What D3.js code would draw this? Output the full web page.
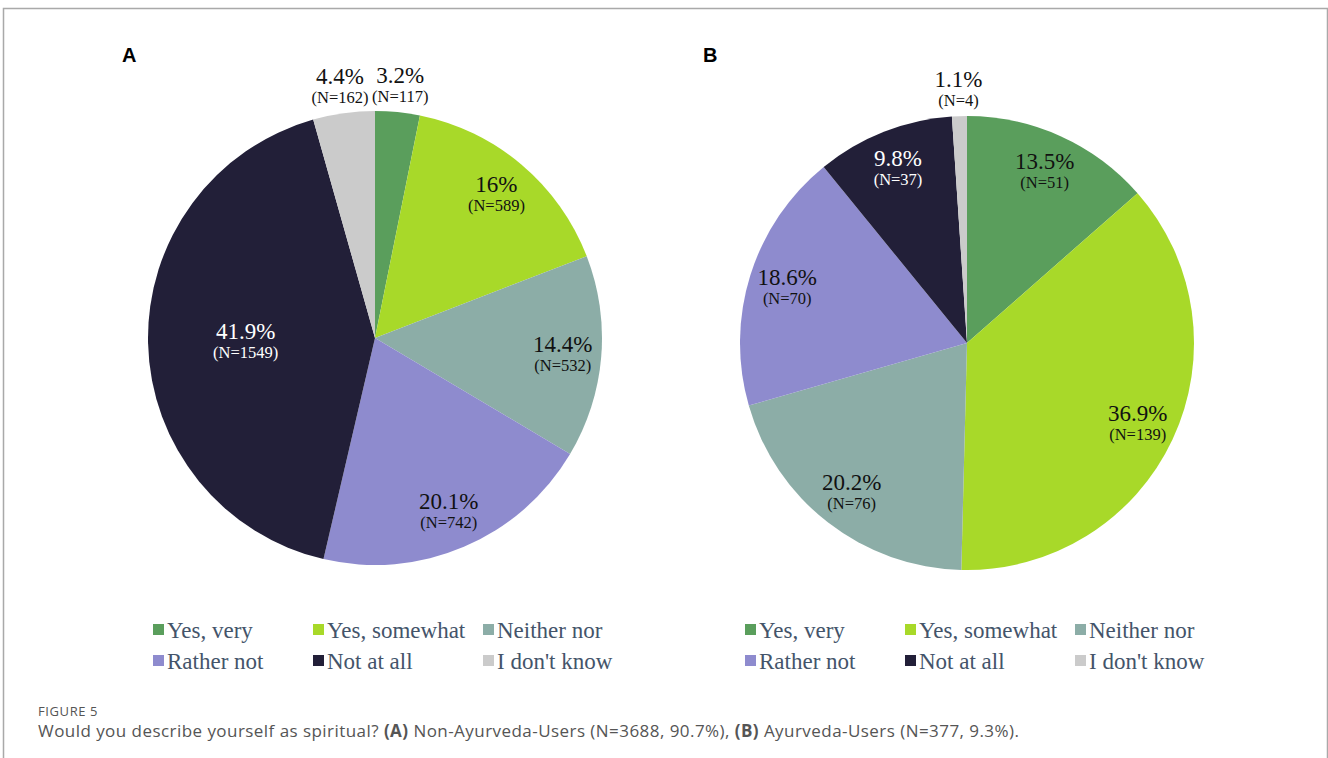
<!DOCTYPE html>
<html>
<head>
<meta charset="utf-8">
<script src="https://cdn.jsdelivr.net/npm/d3@7"></script>
<style>
  body { margin: 0; background: #fff; }
  svg { display: block; }
</style>
</head>
<body>
<div id="chart"></div>
<script>
// data
const categories = ["Yes, very", "Yes, somewhat", "Neither nor", "Rather not", "Not at all", "I don't know"];
const colors = ["#5a9e5c", "#a8d929", "#8cada7", "#8e8bce", "#221f38", "#cbcbcb"];

const countsA = [117, 589, 532, 742, 1549, 162];
const pctA = ["3.2%", "16%", "14.4%", "20.1%", "41.9%", "4.4%"];

const countsB = [51, 139, 76, 70, 37, 4];
const pctB = ["13.5%", "36.9%", "20.2%", "18.6%", "9.8%", "1.1%"];

const width = 1328;
const height = 758;
const radius = 227;

const svg = d3.select("#chart").append("svg")
  .attr("width", width)
  .attr("height", height);

// frame round the figure
svg.append("path")
  .attr("d", `M3.5,${height} V8.5 H1327.5 V${height}`)
  .attr("fill", "none")
  .attr("stroke", "#a9a9a9")
  .attr("stroke-width", 1.5);

const pie = d3.pie().sort(null).value(d => d.n);
const arc = d3.arc().innerRadius(0).outerRadius(radius);

function drawPie(cx, cy, letter, letterX, counts, pcts) {
  const g = svg.append("g").attr("transform", `translate(${cx},${cy})`);
  const rows = categories.map((c, i) => ({ cat: c, n: counts[i], pct: pcts[i], i: i }));
  const total = d3.sum(counts);
  const arcs = pie(rows);

  g.selectAll("path.slice")
    .data(arcs)
    .enter()
    .append("path")
    .attr("class", "slice")
    .attr("d", arc)
    .attr("fill", d => colors[d.data.i]);

  // labels: small slices outside, big ones pulled toward the middle
  const labels = g.selectAll("g.lbl")
    .data(arcs)
    .enter()
    .append("g")
    .attr("class", "lbl")
    .attr("transform", d => {
      const share = d.data.n / total;
      const mid = (d.startAngle + d.endAngle) / 2;
      let r = radius * 0.83;
      if (share < 0.05) r = radius * 1.12;
      else if (share > 0.4) r = radius * 0.57;
      return `translate(${Math.sin(mid) * r},${-Math.cos(mid) * r})`;
    });

  const fillFor = d => (d.data.i === 4 ? "#fff" : "#111");

  labels.append("text")
    .attr("text-anchor", "middle")
    .attr("y", -2)
    .style("font-family", "'Liberation Serif', 'Times New Roman', serif")
    .style("font-size", "23px")
    .attr("fill", fillFor)
    .text(d => d.data.pct);

  labels.append("text")
    .attr("text-anchor", "middle")
    .attr("y", 17)
    .style("font-family", "'Liberation Serif', 'Times New Roman', serif")
    .style("font-size", "16.5px")
    .attr("fill", fillFor)
    .text(d => `(N=${d.data.n})`);

  // panel letter
  svg.append("text")
    .attr("x", letterX)
    .attr("y", 62)
    .style("font-family", "'Liberation Sans', Arial, sans-serif")
    .style("font-weight", "bold")
    .style("font-size", "20px")
    .attr("fill", "#000")
    .text(letter);

  // legend
  const colX = [0, 160, 330];
  const legend = svg.selectAll(null)
    .data(categories)
    .enter()
    .append("g")
    .attr("transform", (d, i) => `translate(${cx - 222 + colX[i % 3]},${630 + Math.floor(i / 3) * 31})`);

  legend.append("rect")
    .attr("x", 0)
    .attr("y", -6)
    .attr("width", 11)
    .attr("height", 11)
    .attr("fill", (d, i) => colors[i]);

  legend.append("text")
    .attr("x", 14)
    .attr("y", 0)
    .attr("dy", "0.35em")
    .style("font-family", "'Liberation Serif', 'Times New Roman', serif")
    .style("font-size", "23px")
    .attr("fill", "#44546a")
    .text(d => d);
}

drawPie(375, 338, "A", 122, countsA, pctA);
drawPie(967, 343, "B", 703, countsB, pctB);

// caption
svg.append("text")
  .attr("x", 38)
  .attr("y", 716)
  .style("font-family", "'Open Sans', 'Noto Sans', sans-serif")
  .style("font-size", "13px")
  .style("letter-spacing", "0.6px")
  .attr("fill", "#555")
  .text("FIGURE 5");

const cap = svg.append("text")
  .attr("x", 38)
  .attr("y", 737)
  .style("font-family", "'Open Sans', 'Noto Sans', sans-serif")
  .style("font-size", "17px")
  .style("letter-spacing", "0.45px")
  .attr("fill", "#555");
cap.append("tspan").text("Would you describe yourself as spiritual? ");
cap.append("tspan").style("font-weight", "bold").text("(A)");
cap.append("tspan").text(" Non-Ayurveda-Users (N=3688, 90.7%), ");
cap.append("tspan").style("font-weight", "bold").text("(B)");
cap.append("tspan").text(" Ayurveda-Users (N=377, 9.3%).");
</script>
</body>
</html>
